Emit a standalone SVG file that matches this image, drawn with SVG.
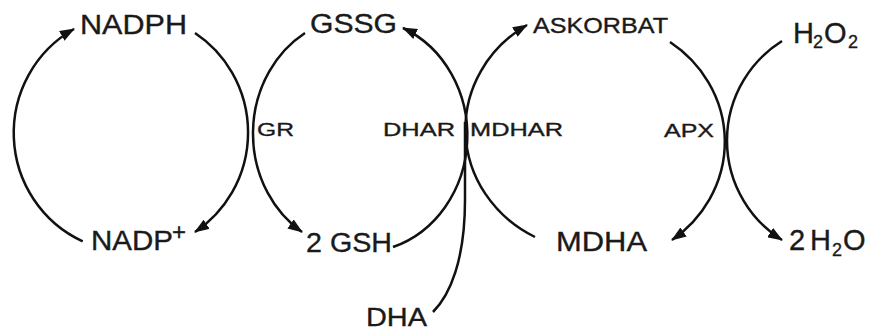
<svg xmlns="http://www.w3.org/2000/svg" width="876" height="331" viewBox="0 0 876 331">
<style>
  .lbl { font-family: "Liberation Sans", Arial, sans-serif; fill: #1a1a1a; stroke: #1a1a1a; stroke-width: 0.35; }
  .big { font-size: 27px; }
  .mid { font-size: 22px; }
  .enz { font-size: 19px; }
  .sub { font-size: 18px; }
  .wat { font-size: 29px; }
  .arc { fill: none; stroke: #111; stroke-width: 2.5; }
  .arr { marker-end: url(#ah); }
</style>
<defs>
  <marker id="ah" viewBox="0 0 15 11" refX="14" refY="5.5" markerWidth="15" markerHeight="11" markerUnits="userSpaceOnUse" orient="auto">
    <path d="M0,0 L15,5.5 L0,11 z" fill="#111"/>
  </marker>
</defs>
<rect width="876" height="331" fill="#fff"/>

<g id="connectors">
  <!-- NADPH / NADP+ cycle -->
  <path class="arc arr" d="M82.7,241.3 A117.5,119 0 0 1 74,29"/>
  <path class="arc arr" d="M195,33 A117.5,119 0 0 1 195,232"/>
  <!-- GSSG / GSH cycle -->
  <path class="arc arr" d="M305,33 A106.5,117 0 0 0 302,232"/>
  <path class="arc arr" d="M393,247 A106.5,117 0 0 0 403,28"/>
  <!-- Ascorbate / MDHA cycle -->
  <path class="arc arr" d="M535,237 A129.5,122 0 0 1 527,25"/>
  <path class="arc arr" d="M670,42 A129.5,122 0 0 1 672,240"/>
  <!-- H2O2 / H2O -->
  <path class="arc arr" d="M782,41 A117.5,117.5 0 0 0 782,240"/>
  <!-- DHA feed -->
  <path class="arc" d="M433,312 C450,295 465,260 465,200 L465,122"/>
</g>

<g id="NADPH"><text class="lbl big" x="80" y="34" textLength="107" lengthAdjust="spacingAndGlyphs">NADPH</text></g>
<g id="NADP"><text class="lbl big" x="91" y="250"><tspan textLength="82" lengthAdjust="spacingAndGlyphs">NADP</tspan><tspan x="172" y="240" font-size="24">+</tspan></text></g>
<g id="GSSG"><text class="lbl big" x="310" y="33" textLength="87" lengthAdjust="spacingAndGlyphs">GSSG</text></g>
<g id="GSH"><text class="lbl big" x="306" y="252" textLength="86" lengthAdjust="spacingAndGlyphs">2 GSH</text></g>
<g id="ASKORBAT"><text class="lbl mid" x="533" y="33" textLength="135" lengthAdjust="spacingAndGlyphs">ASKORBAT</text></g>
<g id="H2O2"><text class="lbl wat" x="793" y="43">H<tspan class="sub" x="813" y="48">2</tspan><tspan x="824" y="43">O</tspan><tspan class="sub" x="848" y="48">2</tspan></text></g>
<g id="MDHA"><text class="lbl big" x="556" y="251" textLength="91" lengthAdjust="spacingAndGlyphs">MDHA</text></g>
<g id="H2O"><text class="lbl wat" x="789" y="250">2<tspan x="810">H</tspan><tspan class="sub" x="832" y="256">2</tspan><tspan x="843" y="250">O</tspan></text></g>
<g id="DHA"><text class="lbl" x="366" y="326" textLength="61" lengthAdjust="spacingAndGlyphs" style="font-size:26px">DHA</text></g>
<g id="GR"><text class="lbl enz" x="257" y="136" textLength="37" lengthAdjust="spacingAndGlyphs">GR</text></g>
<g id="DHAR"><text class="lbl enz" x="383" y="136" textLength="72" lengthAdjust="spacingAndGlyphs">DHAR</text></g>
<g id="MDHAR"><text class="lbl enz" x="470" y="136" textLength="93" lengthAdjust="spacingAndGlyphs">MDHAR</text></g>
<g id="APX"><text class="lbl enz" x="664" y="137" textLength="50" lengthAdjust="spacingAndGlyphs">APX</text></g>
</svg>
